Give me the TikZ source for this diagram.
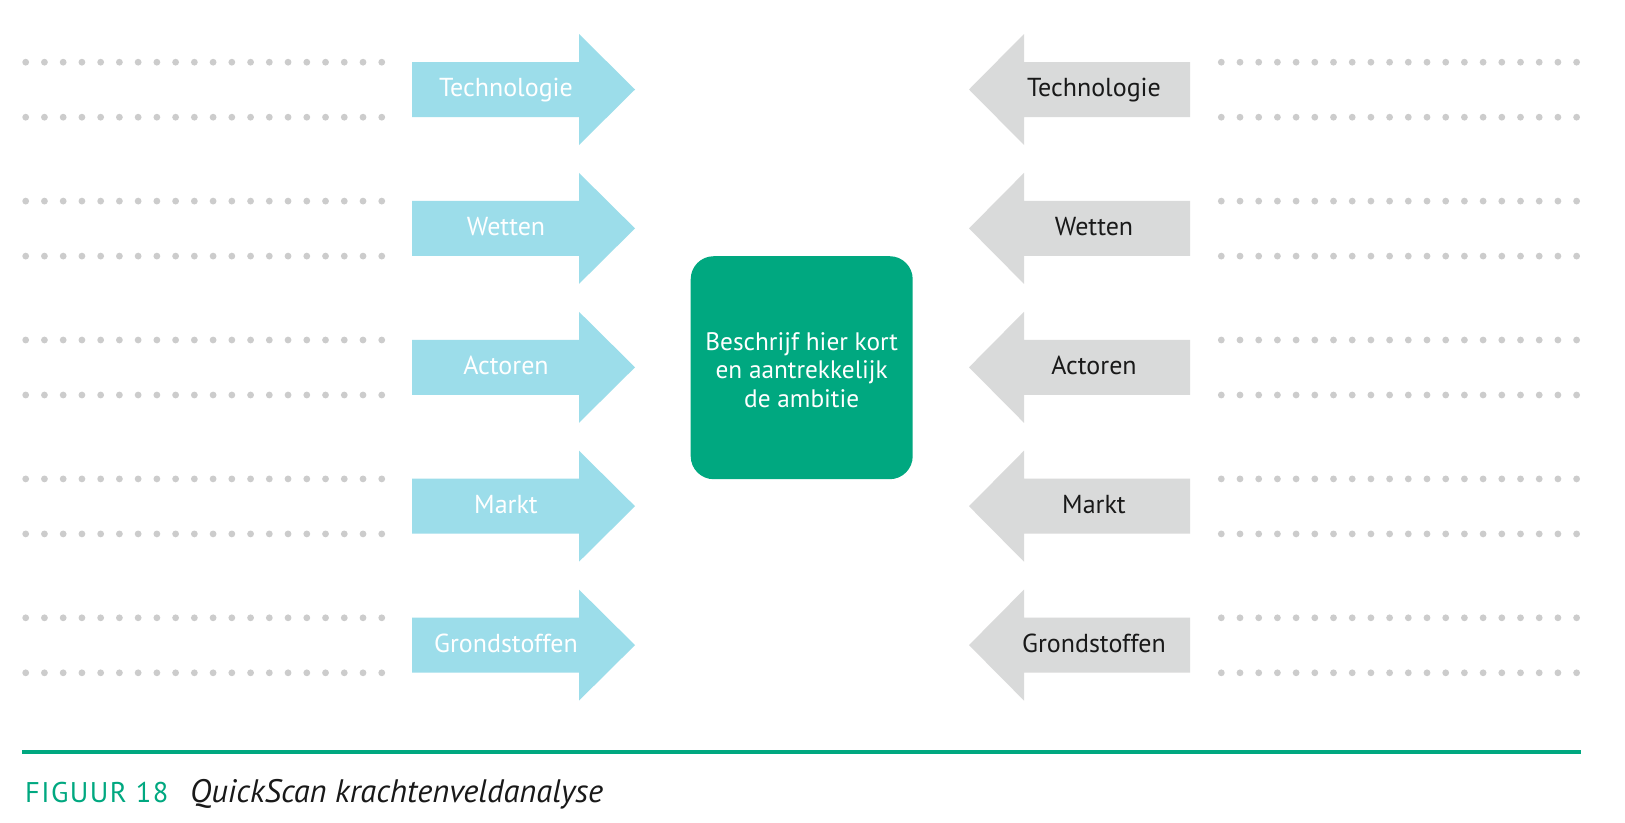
\documentclass[tikz,border=0pt]{standalone}
\usepackage{fontspec}
\setmainfont{PT Sans}
\newfontfamily\capfont[LetterSpace=5]{PT Sans}
\definecolor{arrowblue}{RGB}{156,221,234}
\definecolor{arrowgray}{RGB}{217,218,218}
\definecolor{goalgreen}{RGB}{0,168,128}
\definecolor{dotgray}{RGB}{204,204,204}
\definecolor{txtdark}{RGB}{25,25,25}
\tikzset{
  bluearrow/.style={fill=arrowblue, draw=none},
  grayarrow/.style={fill=arrowgray, draw=none},
  dotmark/.style={fill=dotgray, draw=none},
  bluelabel/.style={text=white, font=\fontsize{26}{30}\selectfont, anchor=base, inner sep=0pt},
  graylabel/.style={text=txtdark, font=\fontsize{26}{30}\selectfont, anchor=base, inner sep=0pt},
  goalbox/.style={fill=goalgreen, draw=none, rounded corners=23pt, minimum width=222pt, minimum height=223pt, text=white, align=center, font=\fontsize{25.3}{28.5}\selectfont, inner sep=0pt},
  rulestyle/.style={draw=goalgreen, line width=3.5pt},
}
\begin{document}
\begin{tikzpicture}[x=1pt,y=-1pt]
\useasboundingbox (0,0) rectangle (1625,822);
\fill[white] (0,0) rectangle (1625,822);
% rows
\foreach \lab [count=\i from 0] in {Technologie,Wetten,Actoren,Markt,Grondstoffen}{
  \pgfmathsetmacro{\cy}{89.5+138.9*\i}
  % dots
  \foreach \k in {0,...,19}{
    \fill[dotmark] ({25.7+18.74*\k},{\cy-27.3}) circle (3.4pt);
    \fill[dotmark] ({25.7+18.74*\k},{\cy+27.7}) circle (3.4pt);
    \fill[dotmark] ({1221.3+18.7*\k},{\cy-27.3}) circle (3.4pt);
    \fill[dotmark] ({1221.3+18.7*\k},{\cy+27.7}) circle (3.4pt);
  }
  % blue arrow
  \fill[bluearrow] (412,{\cy-27.5}) -- (579,{\cy-27.5}) -- (579,{\cy-55.5}) -- (635,\cy) -- (579,{\cy+55.5}) -- (579,{\cy+27.5}) -- (412,{\cy+27.5}) -- cycle;
  \node[bluelabel] (L\i) at (506,{\cy+7}) {\lab};
  % gray arrow
  \fill[grayarrow] (1190,{\cy-27.5}) -- (1024,{\cy-27.5}) -- (1024,{\cy-55.5}) -- (969,\cy) -- (1024,{\cy+55.5}) -- (1024,{\cy+27.5}) -- (1190,{\cy+27.5}) -- cycle;
  \node[graylabel] (R\i) at (1094,{\cy+7}) {\lab};
}
% central box
\node[goalbox] (goal) at (801.7,367.7) {};
\node[text=white, align=center, font=\fontsize{25.3}{28.5}\selectfont, inner sep=0pt] (goaltext) at (801.7,370) {Beschrijf hier kort\\en aantrekkelijk\\de ambitie};
% caption
\coordinate (ruleA) at (22,752);
\coordinate (ruleB) at (1580.5,752);
\draw[rulestyle] (ruleA) -- (ruleB);
\node[anchor=base west, inner sep=0pt, text=goalgreen, font=\capfont\fontsize{28.5}{32}\selectfont] (fig) at (25,802.7) {FIGUUR 18};
\node[anchor=base west, inner sep=0pt, text=txtdark, font=\itshape\fontsize{32.5}{36}\selectfont] (title) at (190,802.7) {QuickScan krachtenveldanalyse};
\end{tikzpicture}
\end{document}
